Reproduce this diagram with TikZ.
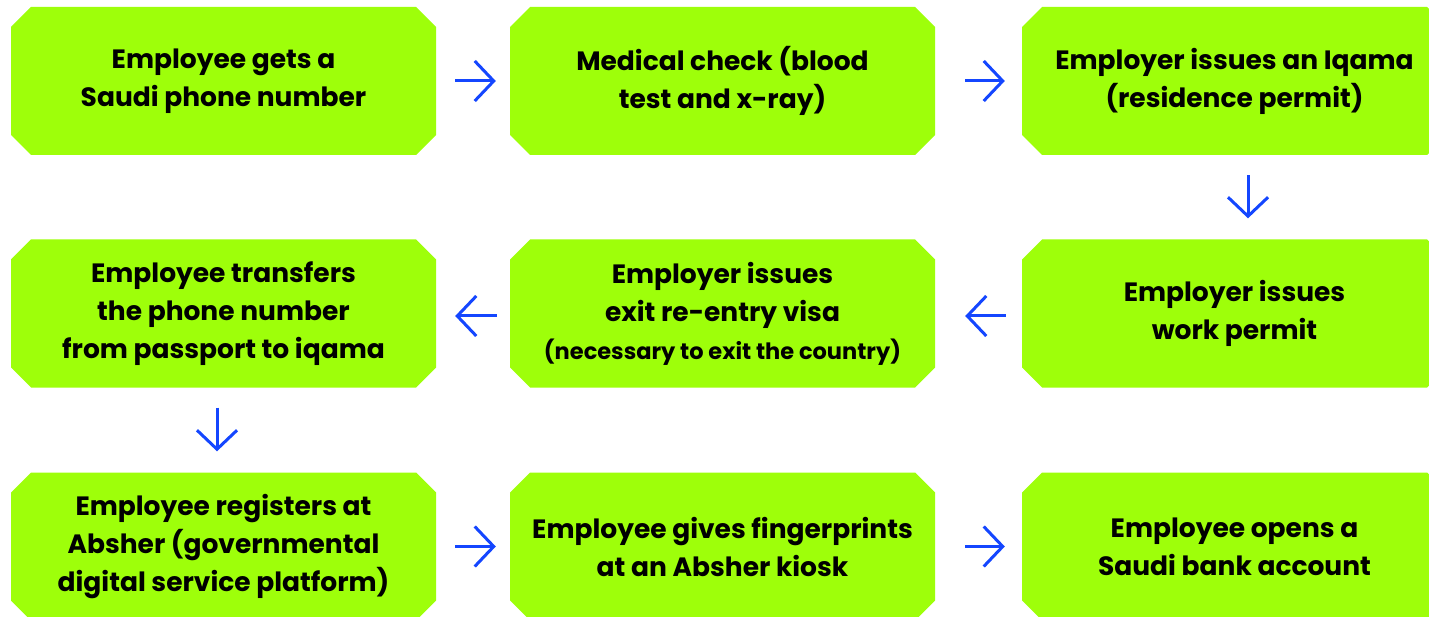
\documentclass[tikz,border=0pt]{standalone}
\usepackage{fontspec}
\setmainfont{Poppins}
\usetikzlibrary{arrows.meta}
\definecolor{lime}{RGB}{158,255,10}
\definecolor{arrblue}{RGB}{20,70,255}
\tikzset{
  x=1pt,y=-1pt,
  stepbox/.style={rectangle, draw=none, minimum width=425pt, minimum height=148pt, inner sep=0pt,
    align=center, font=\fontsize{26.5}{38}\selectfont\bfseries, text=black,
    path picture={
      \fill[lime] ([xshift=20pt]path picture bounding box.north west)
        -- ([xshift=-20pt]path picture bounding box.north east)
        -- ([yshift=-20pt]path picture bounding box.north east)
        -- ([yshift=20pt]path picture bounding box.south east)
        -- ([xshift=-20pt]path picture bounding box.south east)
        -- ([xshift=20pt]path picture bounding box.south west)
        -- ([yshift=20pt]path picture bounding box.south west)
        -- ([yshift=-20pt]path picture bounding box.north west) -- cycle;
    }},
  flow/.style={draw=arrblue, line width=3pt, -{Straight Barb[length=19pt,width=40pt,line width=3pt]}},
  smalltext/.style={}
}
\begin{document}
\begin{tikzpicture}
\clip (0,0) rectangle (1429,617);
\fill[white] (0,0) rectangle (1429,617);
% row 1
\node[stepbox] (b1) at (223.5,81) {Employee gets a\\Saudi phone number};
\node[stepbox] (b2) at (722.5,81) {Medical check (blood\\test and x-ray)};
\node[stepbox] (b3) at (1234.5,81) {Employer issues an Iqama\\(residence permit)};
% row 2
\node[stepbox] (b4) at (223.5,313.5) {Employee transfers\\the phone number\\from passport to iqama};
\node[stepbox] (b5) at (722.5,313.5) {Employer issues\\exit re-entry visa\\{\fontsize{22.5}{40}\selectfont (necessary to exit the country)}};
\node[stepbox] (b6) at (1234.5,313.5) {Employer issues\\work permit};
% row 3
\node[stepbox] (b7) at (223.5,546.5) {Employee registers at\\Absher (governmental\\digital service platform)};
\node[stepbox] (b8) at (722.5,546.5) {Employee gives fingerprints\\at an Absher kiosk};
\node[stepbox] (b9) at (1234.5,546.5) {Employee opens a\\Saudi bank account};
% connectors
\draw[flow] ([shift={(19,0)}]b1.east) -- ([shift={(-14,0)}]b2.west);
\draw[flow] ([shift={(30,0)}]b2.east) -- ([shift={(-17,0)}]b3.west);
\draw[flow] ([shift={(13.5,20)}]b3.south) -- ([shift={(13.5,-21)}]b6.north);
\draw[flow] ([shift={(-16,2.5)}]b6.west) -- ([shift={(30,2.5)}]b5.east);
\draw[flow] ([shift={(-13,2.5)}]b5.west) -- ([shift={(19,2.5)}]b4.east);
\draw[flow] ([shift={(-6.5,20)}]b4.south) -- ([shift={(-6.5,-21)}]b7.north);
\draw[flow] ([shift={(19,0)}]b7.east) -- ([shift={(-14,0)}]b8.west);
\draw[flow] ([shift={(30,0)}]b8.east) -- ([shift={(-17,0)}]b9.west);
\end{tikzpicture}
\end{document}
